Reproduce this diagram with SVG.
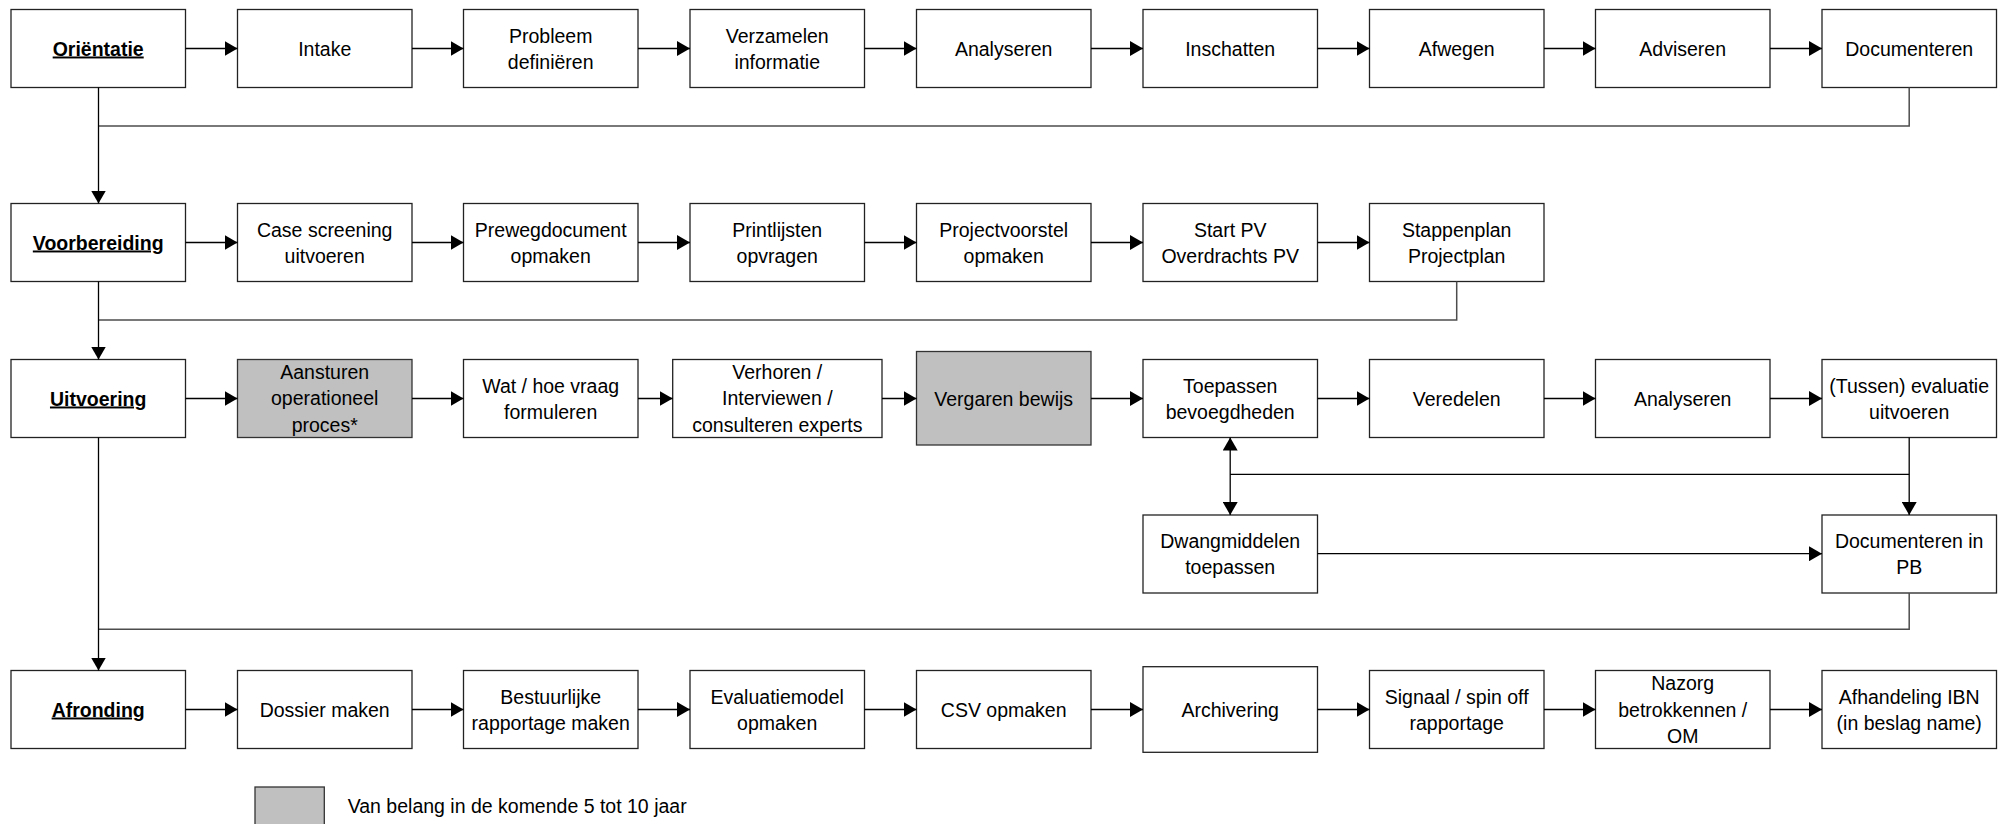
<svg xmlns="http://www.w3.org/2000/svg" width="2001" height="824" viewBox="0 0 2001 824">
<style>
  .box { fill: #ffffff; stroke: #222222; stroke-width: 1.3; }
  .grey { fill: #c0c0c0; stroke: #333333; stroke-width: 1.3; }
  text { font-family: "Liberation Sans", Arial, sans-serif; font-size: 19.5px; fill: #000000; text-anchor: middle; }
  .hd { font-weight: bold; text-decoration: underline; }
  .lg { text-anchor: start; }
  .c { fill: none; stroke: #000000; stroke-width: 1.3; }
  .f { fill: none; stroke: #4d4d4d; stroke-width: 1.5; }
</style>
<defs>
  <marker id="ah" markerUnits="userSpaceOnUse" markerWidth="13" markerHeight="15" refX="13" refY="7.5" orient="auto-start-reverse" viewBox="0 0 13 15">
    <path d="M0,0 L13,7.5 L0,15 Z" fill="#000000"/>
  </marker>
</defs>

<!-- Row 1 -->
<g id="orientatie"><rect class="box" x="11" y="9.5" width="174.5" height="78"/><text class="hd" x="98.2" y="55.5">Oriëntatie</text></g>
<g id="intake"><rect class="box" x="237.5" y="9.5" width="174.5" height="78"/><text x="324.7" y="55.5">Intake</text></g>
<g id="probleem"><rect class="box" x="463.5" y="9.5" width="174.5" height="78"/><text x="550.7" y="42.5">Probleem</text><text x="550.7" y="68.5">definiëren</text></g>
<g id="verzamelen"><rect class="box" x="690" y="9.5" width="174.5" height="78"/><text x="777.2" y="42.5">Verzamelen</text><text x="777.2" y="68.5">informatie</text></g>
<g id="analyseren1"><rect class="box" x="916.5" y="9.5" width="174.5" height="78"/><text x="1003.7" y="55.5">Analyseren</text></g>
<g id="inschatten"><rect class="box" x="1143" y="9.5" width="174.5" height="78"/><text x="1230.2" y="55.5">Inschatten</text></g>
<g id="afwegen"><rect class="box" x="1369.5" y="9.5" width="174.5" height="78"/><text x="1456.7" y="55.5">Afwegen</text></g>
<g id="adviseren"><rect class="box" x="1595.5" y="9.5" width="174.5" height="78"/><text x="1682.7" y="55.5">Adviseren</text></g>
<g id="documenteren"><rect class="box" x="1822" y="9.5" width="174.5" height="78"/><text x="1909.2" y="55.5">Documenteren</text></g>

<!-- Row 2 -->
<g id="voorbereiding"><rect class="box" x="11" y="203.5" width="174.5" height="78"/><text class="hd" x="98.2" y="249.5">Voorbereiding</text></g>
<g id="casescreening"><rect class="box" x="237.5" y="203.5" width="174.5" height="78"/><text x="324.7" y="236.5">Case screening</text><text x="324.7" y="262.5">uitvoeren</text></g>
<g id="prewegdocument"><rect class="box" x="463.5" y="203.5" width="174.5" height="78"/><text x="550.7" y="236.5">Prewegdocument</text><text x="550.7" y="262.5">opmaken</text></g>
<g id="printlijsten"><rect class="box" x="690" y="203.5" width="174.5" height="78"/><text x="777.2" y="236.5">Printlijsten</text><text x="777.2" y="262.5">opvragen</text></g>
<g id="projectvoorstel"><rect class="box" x="916.5" y="203.5" width="174.5" height="78"/><text x="1003.7" y="236.5">Projectvoorstel</text><text x="1003.7" y="262.5">opmaken</text></g>
<g id="startpv"><rect class="box" x="1143" y="203.5" width="174.5" height="78"/><text x="1230.2" y="236.5">Start PV</text><text x="1230.2" y="262.5">Overdrachts PV</text></g>
<g id="stappenplan"><rect class="box" x="1369.5" y="203.5" width="174.5" height="78"/><text x="1456.7" y="236.5">Stappenplan</text><text x="1456.7" y="262.5">Projectplan</text></g>

<!-- Row 3 -->
<g id="uitvoering"><rect class="box" x="11" y="359.5" width="174.5" height="78"/><text class="hd" x="98.2" y="405.5">Uitvoering</text></g>
<g id="aansturen"><rect class="grey" x="237.5" y="359.5" width="174.5" height="78"/><text x="324.7" y="378.5">Aansturen</text><text x="324.7" y="405">operationeel</text><text x="324.7" y="431.5">proces*</text></g>
<g id="wathoe"><rect class="box" x="463.5" y="359.5" width="174.5" height="78"/><text x="550.7" y="392.5">Wat / hoe vraag</text><text x="550.7" y="418.5">formuleren</text></g>
<g id="verhoren"><rect class="box" x="672.7" y="359.5" width="209.3" height="78"/><text x="777.3" y="378.5">Verhoren /</text><text x="777.3" y="405">Interviewen /</text><text x="777.3" y="431.5">consulteren experts</text></g>
<g id="vergaren"><rect class="grey" x="916.5" y="351.5" width="174.5" height="93.5"/><text x="1003.7" y="405.5">Vergaren bewijs</text></g>
<g id="toepassen"><rect class="box" x="1143" y="359.5" width="174.5" height="78"/><text x="1230.2" y="392.5">Toepassen</text><text x="1230.2" y="418.5">bevoegdheden</text></g>
<g id="veredelen"><rect class="box" x="1369.5" y="359.5" width="174.5" height="78"/><text x="1456.7" y="405.5">Veredelen</text></g>
<g id="analyseren2"><rect class="box" x="1595.5" y="359.5" width="174.5" height="78"/><text x="1682.7" y="405.5">Analyseren</text></g>
<g id="tussenevaluatie"><rect class="box" x="1822" y="359.5" width="174.5" height="78"/><text x="1909.2" y="392.5">(Tussen) evaluatie</text><text x="1909.2" y="418.5">uitvoeren</text></g>

<!-- Row 4 -->
<g id="dwangmiddelen"><rect class="box" x="1143" y="515" width="174.5" height="78"/><text x="1230.2" y="548">Dwangmiddelen</text><text x="1230.2" y="574">toepassen</text></g>
<g id="documenterenpb"><rect class="box" x="1822" y="515" width="174.5" height="78"/><text x="1909.2" y="548">Documenteren in</text><text x="1909.2" y="574">PB</text></g>

<!-- Row 5 -->
<g id="afronding"><rect class="box" x="11" y="670.5" width="174.5" height="78"/><text class="hd" x="98.2" y="716.5">Afronding</text></g>
<g id="dossier"><rect class="box" x="237.5" y="670.5" width="174.5" height="78"/><text x="324.7" y="716.5">Dossier maken</text></g>
<g id="bestuurlijke"><rect class="box" x="463.5" y="670.5" width="174.5" height="78"/><text x="550.7" y="703.5">Bestuurlijke</text><text x="550.7" y="729.5">rapportage maken</text></g>
<g id="evaluatiemodel"><rect class="box" x="690" y="670.5" width="174.5" height="78"/><text x="777.2" y="703.5">Evaluatiemodel</text><text x="777.2" y="729.5">opmaken</text></g>
<g id="csv"><rect class="box" x="916.5" y="670.5" width="174.5" height="78"/><text x="1003.7" y="716.5">CSV opmaken</text></g>
<g id="archivering"><rect class="box" x="1143" y="666.7" width="174.5" height="85.6"/><text x="1230.2" y="716.5">Archivering</text></g>
<g id="signaal"><rect class="box" x="1369.5" y="670.5" width="174.5" height="78"/><text x="1456.7" y="703.5">Signaal / spin off</text><text x="1456.7" y="729.5">rapportage</text></g>
<g id="nazorg"><rect class="box" x="1595.5" y="670.5" width="174.5" height="78"/><text x="1682.7" y="690">Nazorg</text><text x="1682.7" y="716.5">betrokkennen /</text><text x="1682.7" y="743">OM</text></g>
<g id="afhandeling"><rect class="box" x="1822" y="670.5" width="174.5" height="78"/><text x="1909.2" y="703.5">Afhandeling IBN</text><text x="1909.2" y="729.5">(in beslag name)</text></g>

<!-- Legend -->
<g id="legend"><rect class="grey" x="255" y="787" width="69.3" height="60"/><text class="lg" x="347.7" y="813">Van belang in de komende 5 tot 10 jaar</text></g>

<!-- Connectors -->
<g id="connectors">
  <!-- row 1 -->
  <line class="c" x1="185.5" y1="48.5" x2="237.5" y2="48.5" marker-end="url(#ah)"/>
  <line class="c" x1="412" y1="48.5" x2="463.5" y2="48.5" marker-end="url(#ah)"/>
  <line class="c" x1="638" y1="48.5" x2="690" y2="48.5" marker-end="url(#ah)"/>
  <line class="c" x1="864.5" y1="48.5" x2="916.5" y2="48.5" marker-end="url(#ah)"/>
  <line class="c" x1="1091" y1="48.5" x2="1143" y2="48.5" marker-end="url(#ah)"/>
  <line class="c" x1="1317.5" y1="48.5" x2="1369.5" y2="48.5" marker-end="url(#ah)"/>
  <line class="c" x1="1544" y1="48.5" x2="1595.5" y2="48.5" marker-end="url(#ah)"/>
  <line class="c" x1="1770" y1="48.5" x2="1822" y2="48.5" marker-end="url(#ah)"/>
  <polyline class="f" points="1909.2,87.5 1909.2,126 98.5,126"/>
  <line class="c" x1="98.5" y1="87.5" x2="98.5" y2="203.5" marker-end="url(#ah)"/>
  <!-- row 2 -->
  <line class="c" x1="185.5" y1="242.5" x2="237.5" y2="242.5" marker-end="url(#ah)"/>
  <line class="c" x1="412" y1="242.5" x2="463.5" y2="242.5" marker-end="url(#ah)"/>
  <line class="c" x1="638" y1="242.5" x2="690" y2="242.5" marker-end="url(#ah)"/>
  <line class="c" x1="864.5" y1="242.5" x2="916.5" y2="242.5" marker-end="url(#ah)"/>
  <line class="c" x1="1091" y1="242.5" x2="1143" y2="242.5" marker-end="url(#ah)"/>
  <line class="c" x1="1317.5" y1="242.5" x2="1369.5" y2="242.5" marker-end="url(#ah)"/>
  <polyline class="f" points="1456.7,281.5 1456.7,320 98.5,320"/>
  <line class="c" x1="98.5" y1="281.5" x2="98.5" y2="359.5" marker-end="url(#ah)"/>
  <!-- row 3 -->
  <line class="c" x1="185.5" y1="398.5" x2="237.5" y2="398.5" marker-end="url(#ah)"/>
  <line class="c" x1="412" y1="398.5" x2="463.5" y2="398.5" marker-end="url(#ah)"/>
  <line class="c" x1="638" y1="398.5" x2="672.7" y2="398.5" marker-end="url(#ah)"/>
  <line class="c" x1="882" y1="398.5" x2="916.5" y2="398.5" marker-end="url(#ah)"/>
  <line class="c" x1="1091" y1="398.5" x2="1143" y2="398.5" marker-end="url(#ah)"/>
  <line class="c" x1="1317.5" y1="398.5" x2="1369.5" y2="398.5" marker-end="url(#ah)"/>
  <line class="c" x1="1544" y1="398.5" x2="1595.5" y2="398.5" marker-end="url(#ah)"/>
  <line class="c" x1="1770" y1="398.5" x2="1822" y2="398.5" marker-end="url(#ah)"/>
  <line class="c" x1="1230.2" y1="437.5" x2="1230.2" y2="515" marker-start="url(#ah)" marker-end="url(#ah)"/>
  <line class="c" x1="1230.2" y1="474.3" x2="1909.2" y2="474.3"/>
  <line class="c" x1="1909.2" y1="437.5" x2="1909.2" y2="515" marker-end="url(#ah)"/>
  <line class="c" x1="1317.5" y1="553.7" x2="1822" y2="553.7" marker-end="url(#ah)"/>
  <polyline class="f" points="1909.2,593 1909.2,629.3 98.5,629.3"/>
  <line class="c" x1="98.5" y1="437.5" x2="98.5" y2="670.5" marker-end="url(#ah)"/>
  <!-- row 5 -->
  <line class="c" x1="185.5" y1="709.5" x2="237.5" y2="709.5" marker-end="url(#ah)"/>
  <line class="c" x1="412" y1="709.5" x2="463.5" y2="709.5" marker-end="url(#ah)"/>
  <line class="c" x1="638" y1="709.5" x2="690" y2="709.5" marker-end="url(#ah)"/>
  <line class="c" x1="864.5" y1="709.5" x2="916.5" y2="709.5" marker-end="url(#ah)"/>
  <line class="c" x1="1091" y1="709.5" x2="1143" y2="709.5" marker-end="url(#ah)"/>
  <line class="c" x1="1317.5" y1="709.5" x2="1369.5" y2="709.5" marker-end="url(#ah)"/>
  <line class="c" x1="1544" y1="709.5" x2="1595.5" y2="709.5" marker-end="url(#ah)"/>
  <line class="c" x1="1770" y1="709.5" x2="1822" y2="709.5" marker-end="url(#ah)"/>
</g>
</svg>
